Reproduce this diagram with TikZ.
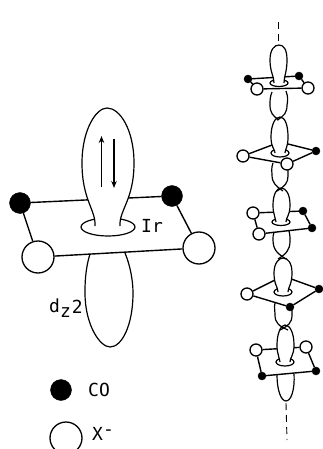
\documentclass[tikz,border=0pt]{standalone}
\usepackage{fontspec}
\setmainfont{DejaVu Sans Mono}
\usepackage{tikz}
\usetikzlibrary{positioning, calc, arrows.meta}

\begin{document}
\begin{tikzpicture}[x=1pt, y=-1pt,
    bond/.style={line width=1.4pt},
    orbital/.style={line width=1.2pt},
    upper/.style={orbital, fill=white},
    axis/.style={line width=0.9pt, dash pattern=on 7pt off 5pt},
    spin/.style={line width=1.1pt, -{Stealth[length=7pt, width=5.5pt]}},
    cobig/.style={circle, draw, fill=black, inner sep=0pt, minimum size=21pt},
    xbig/.style={circle, draw, line width=1.3pt, fill=white, inner sep=0pt, minimum size=32pt},
    cosmall/.style={circle, draw, fill=black, inner sep=0pt, minimum size=8pt},
    xsmall/.style={circle, draw, line width=1.3pt, fill=white, inner sep=0pt, minimum size=12pt},
    lbl/.style={font=\fontsize{18}{18}\selectfont, inner sep=0pt}]
    \useasboundingbox (0,0) rectangle (323,449);
    \clip (0,0) rectangle (323,449);

    % large complex
    \node[cobig] (BC1) at (20,203) {};
    \node[cobig] (BC2) at (172,196) {};
    \node[xbig]  (BX1) at (38,257) {};
    \node[xbig]  (BX2) at (199,248) {};
    \draw[bond] (BC1) -- (BC2);
    \draw[bond] (BC1) -- (BX1);
    \draw[bond] (BC2) -- (BX2);
    \draw[bond] (BX1) -- (BX2);
    \draw[orbital] (108,227) ellipse (27 and 9);
    \draw[upper] (95,226) .. controls (96,210) and (82,200) .. (82,163)
        .. controls (82,130) and (96,108) .. (107,108)
        .. controls (120,108) and (134,130) .. (134,163)
        .. controls (134,200) and (119,210) .. (120,226);
    \draw[orbital] (90,254) .. controls (85,270) and (85,285) .. (85,293)
        .. controls (85,325) and (100,347) .. (110,347)
        .. controls (122,347) and (133,325) .. (133,293)
        .. controls (133,280) and (130,265) .. (125,253);

    % spin arrows
    \draw[spin] (101.5,187) -- (101.5,136);
    \draw[spin] (114,139) -- (114,188);

    % labels and key
    \node[lbl] (Ir) at (152,226) {Ir};
    \node[lbl, anchor=west] (dz) at (49,308) {d\raisebox{-5pt}{z}\kern1pt\raisebox{-1pt}{2}};
    \node[cobig] (KeyCO) at (61,390) {};
    \node[xbig]  (KeyX)  at (66,438) {};
    \node[lbl] (CO) at (99,390) {CO};
    \node[lbl, anchor=west] (Xm) at (92,434) {X\raisebox{5pt}{-}};

    % stack: dashed axis
    \coordinate (TopA) at (278,22);
    \coordinate (TopB) at (278,44);
    \coordinate (BotA) at (286,403);
    \coordinate (BotB) at (287,440);
    \draw[axis] (TopA) -- (TopB);
    \draw[axis] (BotA) -- (BotB);

    % unit 1
    \node[cosmall] (A1) at (248,79) {};
    \node[cosmall] (A2) at (299,76) {};
    \node[xsmall]  (A3) at (257,89) {};
    \node[xsmall]  (A4) at (308,88) {};
    \draw[bond] (A1) -- (A2);
    \draw[bond] (A1) -- (A3);
    \draw[bond] (A2) -- (A4);
    \draw[bond] (A3) -- (A4);
    \draw[orbital] (279,83) ellipse (9 and 3.5);
    \draw[upper] (274,83) .. controls (274,76) and (270,72) .. (270,60)
        .. controls (270,50) and (274,45) .. (279,45)
        .. controls (284,45) and (287,50) .. (287,60)
        .. controls (287,72) and (284,76) .. (284,83);

    % unit 2
    \node[xsmall]  (B1) at (243,156) {};
    \node[cosmall] (B2) at (316,151) {};
    \node[xsmall]  (B3) at (287,164) {};
    \coordinate (B0) at (280,142);
    \draw[bond] (B1) -- (B0) -- (B2);
    \draw[bond] (B1) -- (B3);
    \draw[bond] (B3) -- (B2);
    \draw[orbital] (280,153) ellipse (9 and 4);
    \draw[upper] (275,153) .. controls (275,149) and (271,148) .. (271,137)
        .. controls (271,125) and (275,117) .. (280,117)
        .. controls (285,117) and (288,125) .. (288,137)
        .. controls (288,148) and (285,149) .. (285,153);

    % unit 3
    \node[xsmall]  (C1) at (253,213) {};
    \node[cosmall] (C2) at (303,211) {};
    \node[cosmall] (C3) at (312,228) {};
    \node[xsmall]  (C4) at (259,234) {};
    \draw[bond] (C1) -- (C2);
    \draw[bond] (C1) -- (C4);
    \draw[bond] (C2) -- (C3);
    \draw[bond] (C4) -- (C3);
    \draw[orbital] (281,222) ellipse (9 and 3.5);
    \draw[upper] (276,222) .. controls (276,217) and (273,216) .. (273,205)
        .. controls (273,194) and (277,188) .. (281,188)
        .. controls (286,188) and (290,194) .. (290,205)
        .. controls (290,216) and (286,217) .. (286,222);

    % unit 4
    \node[xsmall]  (D1) at (247,294) {};
    \node[cosmall] (D2) at (319,289) {};
    \node[cosmall] (D3) at (290,307) {};
    \coordinate (D0) at (283,276);
    \draw[bond] (D1) -- (D0) -- (D2);
    \draw[bond] (D1) -- (D3);
    \draw[bond] (D3) -- (D2);
    \draw[orbital] (283,292) ellipse (9 and 4);
    \draw[upper] (278,292) .. controls (278,287) and (274,285) .. (274,273)
        .. controls (274,263) and (279,258) .. (283,258)
        .. controls (288,258) and (292,263) .. (292,273)
        .. controls (292,285) and (288,287) .. (288,292);

    % unit 5
    \node[xsmall]  (E1) at (256,350) {};
    \node[xsmall]  (E2) at (306,347) {};
    \node[cosmall] (E3) at (262,376) {};
    \node[cosmall] (E4) at (316,371) {};
    \draw[bond] (E1) -- (E2);
    \draw[bond] (E1) -- (E3);
    \draw[bond] (E2) -- (E4);
    \draw[bond] (E3) -- (E4);
    \draw[orbital] (285,362) ellipse (9 and 4);
    \draw[upper] (280,362) .. controls (280,357) and (277,356) .. (277,345)
        .. controls (277,333) and (281,325) .. (285,325)
        .. controls (290,325) and (294,333) .. (294,345)
        .. controls (294,356) and (290,357) .. (290,362);

    % lobes below the planes
    \draw[orbital] (272,92) .. controls (270,97) and (270,100) .. (270,105)
        .. controls (270,113) and (273,116) .. (279,120);
    \draw[orbital] (286,91) .. controls (288,97) and (288,100) .. (287,105)
        .. controls (287,113) and (284,116) .. (277,120);
    \draw[orbital] (273,163) .. controls (271,168) and (272,172) .. (272,175)
        .. controls (272,183) and (276,186) .. (283,191);
    \draw[orbital] (288,170) .. controls (288,173) and (288,174) .. (288,176)
        .. controls (288,183) and (285,186) .. (277,191);
    \draw[orbital] (274,232) .. controls (273,235) and (273,237) .. (273,240)
        .. controls (273,250) and (278,254) .. (286,259);
    \draw[orbital] (289,231) .. controls (290,235) and (290,237) .. (290,241)
        .. controls (290,250) and (286,254) .. (278,259);
    \draw[orbital] (275,303) .. controls (274,307) and (275,311) .. (275,315)
        .. controls (275,323) and (279,326) .. (288,330);
    \draw[orbital] (292,309) .. controls (292,311) and (292,313) .. (292,315)
        .. controls (292,323) and (288,326) .. (280,330);
    \draw[orbital] (277,375) .. controls (277,390) and (281,401) .. (286,401)
        .. controls (291,401) and (295,390) .. (294,374);
\end{tikzpicture}
\end{document}
